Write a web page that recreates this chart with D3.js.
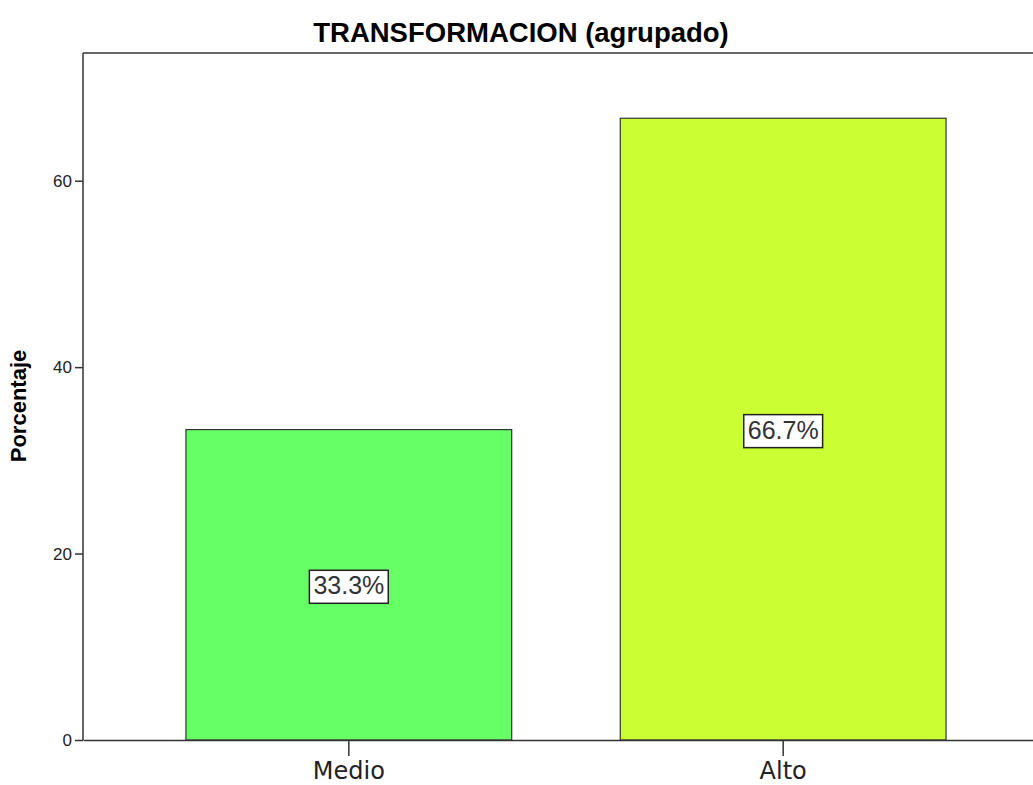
<!DOCTYPE html>
<html>
<head>
<meta charset="utf-8">
<script src="https://cdn.jsdelivr.net/npm/d3@7"></script>
<style>
  body { margin: 0; background: #fff; }
  text { font-family: "Liberation Sans", Arial, sans-serif; }
</style>
</head>
<body>
<div id="chart"></div>
<script>
var categories = ["Medio", "Alto"];
var values = [33.3, 66.7];
var valueLabels = ["33.3%", "66.7%"];
var colors = ["#66ff66", "#ccff33"];
var yTicks = [0, 20, 40, 60];

var W = 1033, H = 785;
var plotLeft = 83, plotTop = 53, plotBottom = 740, plotRight = 1049;

var svg = d3.select("#chart").append("svg").attr("width", W).attr("height", H);

var x = d3.scaleBand().domain(categories).range([plotLeft, plotRight])
  .paddingInner(0.25).paddingOuter(0.237);
var y = d3.scaleLinear().domain([0, 73.7]).range([plotBottom, plotTop]);

// frame (right side runs off the page, as in the original)
svg.append("line").attr("x1", plotLeft).attr("x2", W)
  .attr("y1", plotTop).attr("y2", plotTop)
  .attr("stroke", "#333").attr("stroke-width", 1.5);

// bars
svg.append("g").selectAll("rect").data(values).enter().append("rect")
  .attr("x", function(d, i) { return x(categories[i]); })
  .attr("y", function(d) { return y(d); })
  .attr("width", x.bandwidth())
  .attr("height", function(d) { return y(0) - y(d); })
  .attr("fill", function(d, i) { return colors[i]; })
  .attr("stroke", "#333").attr("stroke-width", 1.2);

// y axis
var yAxis = svg.append("g").attr("transform", "translate(" + plotLeft + ",0)")
  .call(d3.axisLeft(y).tickValues(yTicks).tickSize(8).tickPadding(3).tickSizeOuter(0));
yAxis.select(".domain").attr("stroke", "#333").attr("stroke-width", 1.5)
  .attr("d", "M0," + plotBottom + "V" + plotTop);
yAxis.selectAll(".tick line").attr("stroke", "#333").attr("stroke-width", 1.5);
yAxis.selectAll("text").attr("font-size", 17).attr("fill", "#222")
  .style("font-family", "'Liberation Sans', Arial, sans-serif");

// x axis
var xAxis = svg.append("g").attr("transform", "translate(0," + plotBottom + ")")
  .call(d3.axisBottom(x).tickSize(16).tickPadding(6).tickSizeOuter(0));
xAxis.select(".domain").attr("stroke", "#333").attr("stroke-width", 1.5);
xAxis.selectAll(".tick line").attr("stroke", "#333").attr("stroke-width", 1.5);
xAxis.selectAll("text").attr("font-size", 24).attr("fill", "#222")
  .style("font-family", "'DejaVu Sans', sans-serif");

// value labels
var lab = svg.append("g").selectAll("g").data(values).enter().append("g")
  .attr("transform", function(d, i) {
    return "translate(" + (x(categories[i]) + x.bandwidth() / 2) + "," + y(d / 2) + ")";
  });
lab.append("text").attr("text-anchor", "middle").attr("dy", "0.38em")
  .attr("font-size", 25).attr("fill", "#333")
  .text(function(d, i) { return valueLabels[i]; })
  .each(function() {
    var b = this.getBBox();
    d3.select(this.parentNode).insert("rect", "text")
      .attr("x", b.x - 4).attr("y", b.y - 1)
      .attr("width", b.width + 8).attr("height", b.height + 5)
      .attr("fill", "#fff").attr("stroke", "#222").attr("stroke-width", 1.5);
  });

// title
svg.append("text").attr("x", 521).attr("y", 42).attr("text-anchor", "middle")
  .attr("font-size", 27.5).attr("font-weight", "bold").attr("fill", "#000")
  .text("TRANSFORMACION (agrupado)");

// y label
svg.append("text").attr("transform", "translate(26,406) rotate(-90)")
  .attr("text-anchor", "middle").attr("font-size", 22).attr("font-weight", "bold")
  .attr("fill", "#000").text("Porcentaje");
</script>
</body>
</html>
